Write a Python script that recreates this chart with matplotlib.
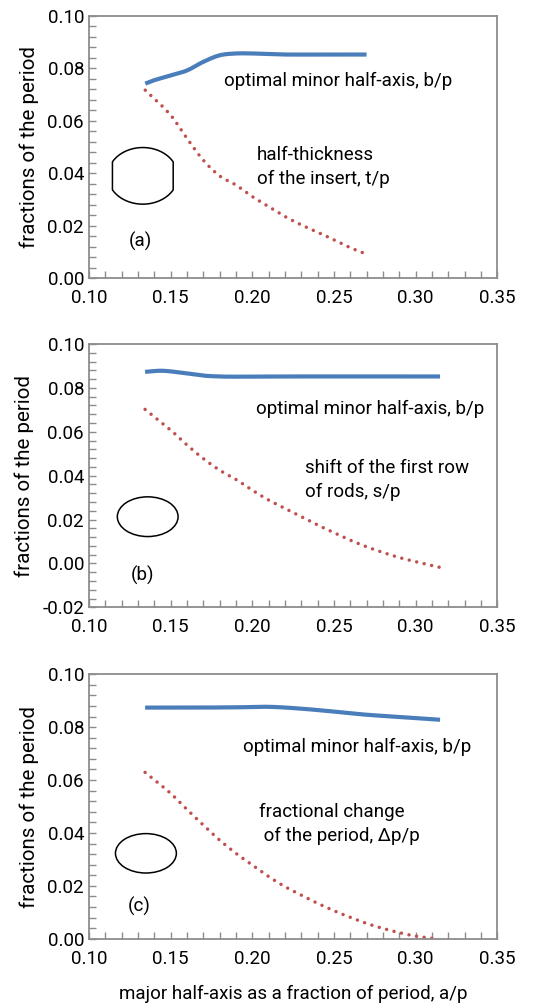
import numpy as np
import matplotlib
matplotlib.use("Agg")
import matplotlib.pyplot as plt
from matplotlib.patches import Polygon, Ellipse
from matplotlib.ticker import MultipleLocator

plt.rcParams['font.family'] = ['Roboto', 'DejaVu Sans']

# panel (a): insert
a_x_b = [0.1345, 0.14, 0.15, 0.16, 0.17, 0.18, 0.19, 0.20, 0.21, 0.22, 0.24, 0.27]
a_b = [0.0742, 0.0755, 0.0773, 0.0792, 0.0825, 0.0850, 0.0857, 0.0857, 0.0855, 0.0853, 0.0853, 0.0853]
a_x_t = [0.1345, 0.15, 0.16, 0.17, 0.18, 0.19, 0.20, 0.21, 0.22, 0.23, 0.24, 0.25, 0.26, 0.27]
a_t = [0.0717, 0.0622, 0.0533, 0.0450, 0.0390, 0.0355, 0.0311, 0.0273, 0.0235, 0.0203, 0.0175, 0.0146, 0.0116, 0.0091]

# panel (b): shifted first row
b_x_b = [0.1344, 0.145, 0.16, 0.17, 0.18, 0.19, 0.22, 0.26, 0.315]
b_b = [0.0873, 0.0878, 0.0866, 0.0856, 0.0852, 0.0851, 0.0852, 0.0852, 0.0852]
b_x_s = [0.1344, 0.15, 0.16, 0.17, 0.18, 0.19, 0.20, 0.21, 0.22, 0.23, 0.24, 0.25,
         0.26, 0.27, 0.28, 0.29, 0.30, 0.315]
b_s = [0.0702, 0.0608, 0.0540, 0.0478, 0.0425, 0.0383, 0.0334, 0.0289, 0.0251, 0.0213, 0.0175, 0.0141,
       0.0106, 0.0076, 0.0050, 0.0027, 0.0008, -0.0018]

# panel (c): changed period
c_x_b = [0.1344, 0.16, 0.19, 0.21, 0.23, 0.25, 0.27, 0.29, 0.315]
c_b = [0.0874, 0.0874, 0.0875, 0.0877, 0.0870, 0.0859, 0.0847, 0.0839, 0.0828]
c_x_d = [0.1344, 0.15, 0.16, 0.17, 0.18, 0.19, 0.20, 0.21, 0.22, 0.23, 0.24, 0.25,
         0.26, 0.27, 0.28, 0.29, 0.30, 0.312]
c_d = [0.0629, 0.0550, 0.0489, 0.0430, 0.0373, 0.0323, 0.0279, 0.0235, 0.0197, 0.0165, 0.0134, 0.0106,
       0.0081, 0.0058, 0.0039, 0.0023, 0.0010, 0.0000]

blue = '#4a7ebb'
red = '#c0504d'
frame = '#8c8c8c'
fs = 13.5


def smooth(x, y, n=200):
    # cubic hermite through the read points
    xs = np.linspace(x[0], x[-1], n)
    x = np.asarray(x); y = np.asarray(y)
    out = []
    for xv in xs:
        i = min(np.searchsorted(x, xv, side='right') - 1, len(x) - 2)
        i0, i1, i2, i3 = max(i - 1, 0), i, i + 1, min(i + 2, len(x) - 1)
        t = (xv - x[i1]) / (x[i2] - x[i1])
        m1 = (y[i2] - y[i0]) / (x[i2] - x[i0]) * (x[i2] - x[i1])
        m2 = (y[i3] - y[i1]) / (x[i3] - x[i1]) * (x[i2] - x[i1])
        h00 = 2*t**3 - 3*t**2 + 1; h10 = t**3 - 2*t**2 + t
        h01 = -2*t**3 + 3*t**2; h11 = t**3 - t**2
        out.append(h00*y[i1] + h10*m1 + h01*y[i2] + h11*m2)
    return xs, np.array(out)


def style(ax, ymin):
    ax.set_xlim(0.10, 0.35)
    ax.set_ylim(ymin, 0.10)
    ax.xaxis.set_major_locator(MultipleLocator(0.05))
    ax.xaxis.set_minor_locator(MultipleLocator(0.01))
    ax.yaxis.set_major_locator(MultipleLocator(0.02))
    ax.yaxis.set_minor_locator(MultipleLocator(0.004))
    ax.xaxis.set_major_formatter(lambda v, p: f'{v:.2f}')
    ax.yaxis.set_major_formatter(lambda v, p: f'{v:.2f}')
    for s in ax.spines.values():
        s.set_color(frame)
        s.set_linewidth(1.3)
    ax.tick_params(which='both', direction='in', length=5, width=1, color=frame,
                   labelsize=fs, top=False, right=False)
    ax.tick_params(axis='x', pad=8)
    ax.set_ylabel('fractions of the period', fontsize=14.8, labelpad=6)


def draw(ax, xb, yb, xr, yr):
    sx, sy = smooth(xb, yb)
    ax.plot(sx, sy, color=blue, lw=3, solid_capstyle='butt')
    rx, ry = smooth(xr, yr)
    ax.plot(rx, ry, color=red, lw=2.5, linestyle=(0, (0.01, 2.2)), dash_capstyle='round')


fig = plt.figure(figsize=(5.54, 10.07), dpi=100)
L, W = 0.1605, 0.737
ax1 = fig.add_axes([L, 0.7239, W, 0.2602])
ax2 = fig.add_axes([L, 0.3969, W, 0.2615])
ax3 = fig.add_axes([L, 0.0678, W, 0.2626])

# (a)
style(ax1, 0.0)
draw(ax1, a_x_b, a_b, a_x_t, a_t)
th = np.linspace(0, 2 * np.pi, 300)
ex = np.clip(0.0214 * np.cos(th), -0.0186, 0.0186) + 0.133
ey = 0.0108 * np.sin(th) + 0.039
ax1.add_patch(Polygon(np.column_stack([ex, ey]), closed=True, fill=False, ec='black', lw=1.1))
ax1.text(0.1825, 0.0751, 'optimal minor half-axis, b/p', fontsize=fs, va='center')
ax1.text(0.203, 0.0424, 'half-thickness\nof the insert, t/p', fontsize=fs, va='center', linespacing=1.45)
ax1.text(0.1315, 0.014, '(a)', fontsize=fs, ha='center', va='center')

# (b)
style(ax2, -0.02)
draw(ax2, b_x_b, b_b, b_x_s, b_s)
ax2.add_patch(Ellipse((0.136, 0.0213), 0.0372, 0.0181, fill=False, ec='black', lw=1.1))
ax2.text(0.2022, 0.0702, 'optimal minor half-axis, b/p', fontsize=fs, va='center')
ax2.text(0.2321, 0.0381, 'shift of the first row\nof rods, s/p', fontsize=fs, va='center', linespacing=1.45)
ax2.text(0.1328, -0.0053, '(b)', fontsize=fs, ha='center', va='center')

# (c)
style(ax3, 0.0)
draw(ax3, c_x_b, c_b, c_x_d, c_d)
ax3.add_patch(Ellipse((0.1349, 0.0323), 0.0373, 0.0149, fill=False, ec='black', lw=1.1))
ax3.text(0.1942, 0.0726, 'optimal minor half-axis, b/p', fontsize=fs, va='center')
ax3.text(0.2044, 0.0435, 'fractional change\n of the period, \u0394p/p', fontsize=fs, va='center', linespacing=1.45)
ax3.text(0.1306, 0.0121, '(c)', fontsize=fs, ha='center', va='center')
ax3.set_xlabel('major half-axis as a fraction of period, a/p', fontsize=fs, labelpad=12)

fig.savefig('out.png', dpi=100)
